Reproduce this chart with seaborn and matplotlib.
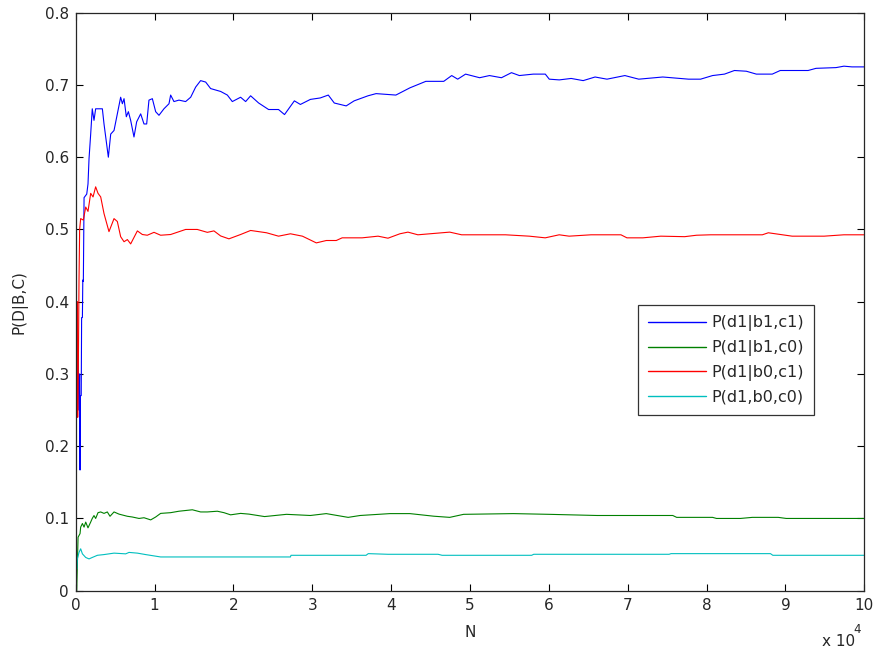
import pandas as pd
import matplotlib
matplotlib.use('Agg')
import matplotlib.pyplot as plt
import seaborn as sns

sns.set_style('white')
plt.rcParams['font.family'] = ['DejaVu Sans']

# N is given in units of 1e4 (axis shows "x 10^4")
n_b1c1 = [0.03, 0.04, 0.05, 0.055, 0.06, 0.07, 0.075, 0.085, 0.09, 0.097,
          0.106, 0.14, 0.156, 0.169, 0.19, 0.21, 0.232, 0.253, 0.338, 0.359,
          0.414, 0.444, 0.486, 0.528, 0.57, 0.592, 0.613, 0.642, 0.668, 0.697,
          0.739, 0.773, 0.824, 0.866, 0.9, 0.929, 0.972, 1.014, 1.056, 1.119,
          1.183, 1.204, 1.246, 1.309, 1.394, 1.458, 1.521, 1.584, 1.648, 1.711,
          1.774, 1.838, 1.923, 1.986, 2.091, 2.155,
          2.218, 2.32, 2.446, 2.572, 2.648, 2.773, 2.849, 2.976, 3.101, 3.203,
          3.279, 3.43, 3.531, 3.707, 3.809, 4.06, 4.238, 4.44, 4.667, 4.768,
          4.844, 4.944, 5.122, 5.247, 5.399, 5.526, 5.626, 5.803, 5.955, 6.005,
          6.132, 6.283, 6.435, 6.586, 6.737, 6.964, 7.14, 7.445, 7.772, 7.924,
          8.076, 8.227, 8.353, 8.504, 8.631, 8.833, 8.934, 9.287, 9.388, 9.641,
          9.742, 9.843, 10.0]
p_b1c1 = [0.333, 0.25, 0.30, 0.167, 0.27, 0.27, 0.378, 0.378, 0.43, 0.428,
          0.544, 0.549, 0.563, 0.598, 0.632, 0.667, 0.651, 0.667, 0.667, 0.646,
          0.600, 0.632, 0.637, 0.660, 0.683, 0.674, 0.681, 0.656, 0.663, 0.651,
          0.628, 0.649, 0.660, 0.646, 0.646, 0.679, 0.681, 0.663, 0.658, 0.667,
          0.674, 0.686, 0.677, 0.679, 0.677, 0.683, 0.697, 0.706, 0.704, 0.695,
          0.693, 0.691, 0.686, 0.677, 0.683, 0.677,
          0.685, 0.675, 0.666, 0.666, 0.659, 0.678, 0.673, 0.680, 0.682, 0.686,
          0.675, 0.671, 0.678, 0.685, 0.688, 0.686, 0.696, 0.705, 0.705, 0.713,
          0.708, 0.715, 0.710, 0.713, 0.710, 0.717, 0.713, 0.715, 0.715, 0.708,
          0.707, 0.709, 0.706, 0.711, 0.708, 0.713, 0.708, 0.711, 0.708, 0.708,
          0.713, 0.715, 0.720, 0.719, 0.715, 0.715, 0.720, 0.720, 0.723, 0.724,
          0.726, 0.725, 0.725]

n_b1c0 = [0.013, 0.02, 0.03, 0.055, 0.063, 0.085, 0.106, 0.127, 0.156, 0.19,
          0.21, 0.232, 0.253, 0.283, 0.317, 0.359, 0.401, 0.435, 0.486, 0.549,
          0.655, 0.718, 0.803, 0.866, 0.951, 1.014, 1.077, 1.204, 1.309, 1.479,
          1.584, 1.669, 1.796, 1.88, 1.964, 2.091, 2.197,
          2.395, 2.673, 2.976, 3.177, 3.455, 3.607, 3.985, 4.238, 4.541, 4.743,
          4.919, 5.55, 6.005, 6.611, 7.217, 7.571, 7.621, 8.076, 8.126, 8.429,
          8.581, 8.909, 9.01, 10.0]
p_b1c0 = [0.0, 0.032, 0.074, 0.079, 0.088, 0.093, 0.088, 0.095, 0.087, 0.095,
          0.100, 0.104, 0.100, 0.108, 0.109, 0.107, 0.109, 0.103, 0.109, 0.106,
          0.103, 0.102, 0.100, 0.101, 0.098, 0.102, 0.107, 0.108, 0.110, 0.112,
          0.109, 0.109, 0.110, 0.108, 0.105, 0.107, 0.106,
          0.1026, 0.1057, 0.1041, 0.1067, 0.1015, 0.1041, 0.1067, 0.1067, 0.1031, 0.1015,
          0.1057, 0.1067, 0.1057, 0.1041, 0.1041, 0.1041, 0.1015, 0.1015, 0.100, 0.100,
          0.1015, 0.1015, 0.100, 0.100]

n_b0c1 = [0.013, 0.02, 0.025, 0.035, 0.042, 0.05, 0.063, 0.097, 0.127, 0.156,
          0.19, 0.22, 0.253, 0.283, 0.317, 0.359, 0.422, 0.486, 0.528, 0.57,
          0.613, 0.655, 0.697, 0.782, 0.845, 0.908, 0.993, 1.077, 1.204, 1.394,
          1.542, 1.669, 1.753, 1.838, 1.943, 2.091,
          2.218, 2.42, 2.572, 2.723, 2.875, 3.051, 3.178, 3.304, 3.379, 3.632,
          3.834, 3.96, 4.111, 4.213, 4.339, 4.491, 4.743, 4.894, 5.45, 5.752,
          5.954, 6.131, 6.257, 6.535, 6.914, 6.99, 7.192, 7.419, 7.722, 7.873,
          8.05, 8.707, 8.783, 9.085, 9.49, 9.741, 10.0]
p_b0c1 = [0.25, 0.40, 0.24, 0.33, 0.43, 0.50, 0.515, 0.513, 0.531, 0.525,
          0.550, 0.545, 0.559, 0.550, 0.545, 0.522, 0.497, 0.515, 0.511, 0.490,
          0.483, 0.486, 0.480, 0.498, 0.493, 0.492, 0.496, 0.492, 0.493, 0.500,
          0.500, 0.496, 0.498, 0.491, 0.487, 0.493,
          0.4986, 0.4954, 0.4907, 0.494, 0.4907, 0.4814, 0.4847, 0.4847, 0.4884, 0.4884,
          0.4907, 0.4879, 0.494, 0.4963, 0.4926, 0.494, 0.4963, 0.4926, 0.4926, 0.4907,
          0.4884, 0.4926, 0.4907, 0.4926, 0.4926, 0.4884, 0.4884, 0.4907, 0.49, 0.492,
          0.4926, 0.4926, 0.4954, 0.4907, 0.4907, 0.4926, 0.4926]

n_b0c0 = [0.015, 0.021, 0.042, 0.063, 0.085, 0.127, 0.169, 0.21, 0.275, 0.359,
          0.486, 0.634, 0.676, 0.782, 0.887, 1.077, 2.723, 2.73, 3.682, 3.71,
          3.96, 4.595, 4.646, 5.782, 5.808, 7.525, 7.55, 8.81, 8.84, 10.0]
p_b0c0 = [0.03, 0.044, 0.053, 0.058, 0.051, 0.046, 0.044, 0.046, 0.049, 0.050,
          0.052, 0.051, 0.053, 0.052, 0.050, 0.0467, 0.0467, 0.049, 0.049, 0.0513,
          0.0504, 0.0504, 0.049, 0.049, 0.0504, 0.0504, 0.0513, 0.0513, 0.049, 0.049]

labels = ['P(d1|b1,c1)', 'P(d1|b1,c0)', 'P(d1|b0,c1)', 'P(d1,b0,c0)']
colors = ['#0000ff', '#008000', '#ff0000', '#00bfbf']
x_ticks = [0, 1, 2, 3, 4, 5, 6, 7, 8, 9, 10]
y_ticks = [0, 0.1, 0.2, 0.3, 0.4, 0.5, 0.6, 0.7, 0.8]

frames = []
for lab, n, p in zip(labels, [n_b1c1, n_b1c0, n_b0c1, n_b0c0],
                     [p_b1c1, p_b1c0, p_b0c1, p_b0c0]):
    frames.append(pd.DataFrame({'N': n, 'P': p, 'series': lab}))
df = pd.concat(frames, ignore_index=True)

W, H = 882, 653
fig = plt.figure(figsize=(W / 100, H / 100), dpi=100)
ax = fig.add_axes([75.7 / W, 1 - 590.7 / H, (864.3 - 75.7) / W, (590.7 - 12.7) / H])

sns.lineplot(data=df, x='N', y='P', hue='series', hue_order=labels,
             palette=colors, estimator=None, sort=False, lw=0.8, ax=ax)

ax.set_xlim(0, 10)
ax.set_ylim(0, 0.8)
ax.set_xticks(x_ticks)
ax.set_xticklabels([f'{v:g}' for v in x_ticks])
ax.set_yticks(y_ticks)
ax.set_yticklabels([f'{v:g}' for v in y_ticks])
ax.tick_params(direction='in', length=5, width=0.8, color='black',
               bottom=True, left=True, top=True, right=True,
               labelsize=11, labelcolor='#262626', pad=5)
for s in ax.spines.values():
    s.set_color('#262626')
    s.set_linewidth(0.9)

ax.set_xlabel('N', fontsize=11, color='#262626')
ax.set_ylabel('P(D|B,C)', fontsize=11, color='#262626')
ax.xaxis.set_label_coords(0.5, -(625 - 590.7) / 578)
ax.yaxis.set_label_coords((27 - 75.7) / 788.6, 0.5)

fig.text(822 / W, 1 - 646 / H, 'x 10', fontsize=11, color='#262626')
fig.text(853 / W, 1 - 633 / H, '4', fontsize=8.5, color='#262626')

leg = ax.legend(loc='upper left', bbox_to_anchor=((638 - 75.7) / 788.6, (590.7 - 305) / 578),
                frameon=True, fancybox=False, edgecolor='black', fontsize=11.5,
                handlelength=3.6, handletextpad=0.35, labelspacing=0.55,
                borderpad=0.65, borderaxespad=0)
leg.get_frame().set_linewidth(0.9)
for line in leg.get_lines():
    line.set_linewidth(1.0)

fig.savefig('out.png', dpi=100)
